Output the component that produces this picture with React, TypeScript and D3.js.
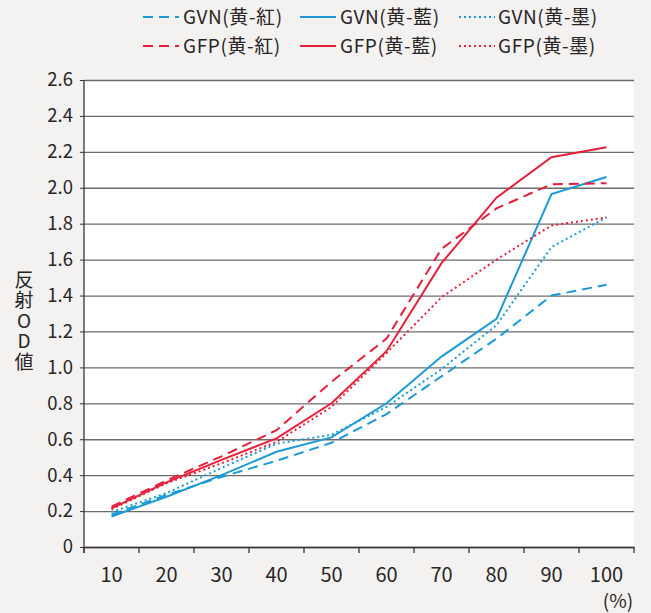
import React, { useEffect, useRef } from 'react';
import * as d3 from 'd3';

const categories = ['10', '20', '30', '40', '50', '60', '70', '80', '90', '100'];
const yTicks = [0, 0.2, 0.4, 0.6, 0.8, 1.0, 1.2, 1.4, 1.6, 1.8, 2.0, 2.2, 2.4, 2.6];

const gvnRed = [0.18, 0.29, 0.39, 0.48, 0.58, 0.74, 0.95, 1.16, 1.40, 1.46];
const gvnBlue = [0.17, 0.28, 0.40, 0.53, 0.61, 0.80, 1.06, 1.27, 1.965, 2.06];
const gvnBlack = [0.195, 0.30, 0.44, 0.575, 0.625, 0.78, 0.99, 1.235, 1.67, 1.835];
const gfpRed = [0.225, 0.37, 0.505, 0.65, 0.92, 1.16, 1.66, 1.885, 2.02, 2.025];
const gfpBlue = [0.215, 0.36, 0.485, 0.605, 0.80, 1.09, 1.58, 1.945, 2.17, 2.225];
const gfpBlack = [0.21, 0.355, 0.466, 0.585, 0.78, 1.08, 1.39, 1.60, 1.79, 1.835];

const BLUE = '#1b9ad7';
const RED = '#e5203a';

interface Series {
    name: string,
    values: number[],
    color: string,
    dash: string
}

const series: Series[] = [
    { name: 'GVN(黄-紅)', values: gvnRed, color: BLUE, dash: '10,6' },
    { name: 'GVN(黄-藍)', values: gvnBlue, color: BLUE, dash: '' },
    { name: 'GVN(黄-墨)', values: gvnBlack, color: BLUE, dash: '2,3' },
    { name: 'GFP(黄-紅)', values: gfpRed, color: RED, dash: '10,6' },
    { name: 'GFP(黄-藍)', values: gfpBlue, color: RED, dash: '' },
    { name: 'GFP(黄-墨)', values: gfpBlack, color: RED, dash: '2,3' },
];

const App: React.FC = () => {
    const svgRef = useRef<SVGSVGElement | null>(null);

    const width = 651;
    const height = 613;
    const marginLeft = 84;
    const marginRight = 17;
    const marginTop = 80;
    const plotBottom = 547;
    const font = '"Noto Sans CJK JP", "Noto Sans", sans-serif';
    const textColor = '#2a2526';

    useEffect(() => {
        const svg = d3.select(svgRef.current);
        svg.selectAll('*').remove();

        const x = d3.scaleBand().domain(categories).range([marginLeft, width - marginRight]);
        const y = d3.scaleLinear().domain([0, 2.6]).range([plotBottom, marginTop]);

        svg.append('rect').attr('width', width).attr('height', height).attr('fill', '#f3f2f0');
        svg.append('rect')
            .attr('x', marginLeft).attr('y', marginTop)
            .attr('width', width - marginRight - marginLeft)
            .attr('height', plotBottom - marginTop)
            .attr('fill', '#ffffff');

        // y axis with gridlines
        svg.append('g')
            .attr('transform', `translate(${marginLeft},0)`)
            .call(d3.axisLeft(y).tickValues(yTicks).tickSize(4).tickFormat(d => d === 0 ? '0' : d3.format('.1f')(d as number)))
            .call(g => g.select('.domain').remove())
            .call(g => g.selectAll('.tick line').attr('stroke', '#3a3536'))
            .call(g => g.selectAll('.tick line').clone()
                .attr('x1', 0)
                .attr('x2', width - marginLeft - marginRight)
                .attr('stroke', '#6f6b6a')
                .attr('stroke-width', 1.3))
            .call(g => g.selectAll('.tick text')
                .attr('x', -11)
                .attr('font-family', font)
                .attr('font-size', 18.5)
                .attr('fill', textColor));

        // x axis
        svg.append('g')
            .attr('transform', `translate(0,${plotBottom})`)
            .call(d3.axisBottom(x).tickSize(0).tickPadding(21))
            .call(g => g.select('.domain').attr('stroke', '#3a3536').attr('stroke-width', 1.3))
            .call(g => g.selectAll('.tick text')
                .attr('font-family', font)
                .attr('font-size', 20)
                .attr('fill', textColor));

        svg.append('g')
            .selectAll('line')
            .data(d3.range(categories.length + 1))
            .join('line')
            .attr('x1', i => marginLeft + i * x.step())
            .attr('x2', i => marginLeft + i * x.step())
            .attr('y1', plotBottom)
            .attr('y2', plotBottom + 6)
            .attr('stroke', '#3a3536')
            .attr('stroke-width', 1.3);

        svg.append('line')
            .attr('x1', marginLeft).attr('x2', marginLeft)
            .attr('y1', marginTop).attr('y2', plotBottom + 6)
            .attr('stroke', '#3a3536')
            .attr('stroke-width', 1.3);

        svg.append('text')
            .attr('x', 618)
            .attr('y', 608)
            .attr('text-anchor', 'middle')
            .attr('font-family', font)
            .attr('font-size', 19)
            .attr('fill', textColor)
            .text('(%)');

        // y title, vertical
        svg.append('text')
            .attr('x', 24)
            .attr('y', 270)
            .attr('font-family', font)
            .attr('font-size', 19)
            .attr('fill', textColor)
            .style('writing-mode', 'vertical-rl')
            .style('text-orientation', 'upright')
            .attr('letter-spacing', 1.5)
            .text('反射OD値');

        const line = d3.line<number>()
            .x((_, i) => (x(categories[i]) as number) + x.bandwidth() / 2)
            .y(d => y(d));

        svg.append('g')
            .selectAll('path')
            .data(series)
            .join('path')
            .attr('fill', 'none')
            .attr('stroke', d => d.color)
            .attr('stroke-width', 2)
            .attr('stroke-dasharray', d => d.dash || null)
            .attr('d', d => line(d.values));

        // legend
        const legendX = [143, 300, 459];
        const legendY = [17, 46];
        const legend = svg.append('g')
            .selectAll('g')
            .data(series)
            .join('g')
            .attr('transform', (_, i) => `translate(${legendX[i % 3]},${legendY[Math.floor(i / 3)]})`);

        legend.append('line')
            .attr('x1', 0).attr('x2', 36)
            .attr('y1', 0).attr('y2', 0)
            .attr('stroke', d => d.color)
            .attr('stroke-width', 2)
            .attr('stroke-dasharray', d => d.dash || null);

        legend.append('text')
            .attr('x', (_, i) => i % 3 === 2 ? 39 : 40)
            .attr('y', 7)
            .attr('font-family', font)
            .attr('font-size', 19)
            .attr('letter-spacing', 0.6)
            .attr('fill', textColor)
            .text(d => d.name);

    }, []);

    return <svg ref={svgRef} width={width} height={height} viewBox={`0 0 ${width} ${height}`}
        style={{ position: 'absolute', left: 0, top: 0 }}></svg>;
};

export default App;
